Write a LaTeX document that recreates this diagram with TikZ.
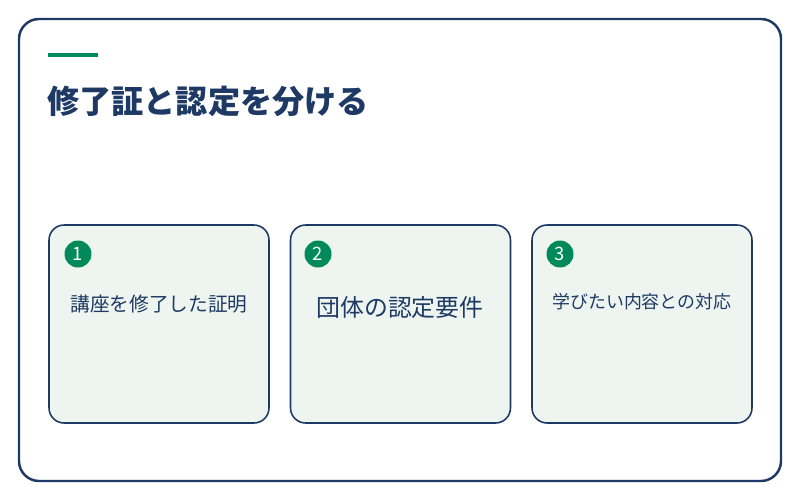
\documentclass[tikz,border=0pt]{standalone}
\usepackage{fontspec}
\usepackage{xcolor}
\setmainfont{Noto Sans CJK JP}
\newfontfamily\jpbold[BoldFont={Noto Sans CJK JP Bold}]{Noto Sans CJK JP}
\definecolor{navyline}{RGB}{30,58,100}
\definecolor{accentgreen}{RGB}{0,138,92}
\definecolor{cardfill}{RGB}{238,245,240}

\begin{document}
\begin{tikzpicture}[x=0.02cm, y=-0.02cm,
    card/.style={draw=navyline, line width=0.9pt, rounded corners=0.3cm, fill=cardfill, minimum width=4.4cm, minimum height=3.96cm},
    badge/.style={circle, fill=accentgreen, text=white, minimum size=0.54cm, inner sep=0pt, font=\fontsize{10.5}{11}\selectfont},
    cardtext/.style={anchor=west, text=navyline, inner sep=0pt}]
            \useasboundingbox (0,0) rectangle (800,500);
            \draw[navyline, line width=1.4pt, rounded corners=0.4cm, fill=white] (19,19) rectangle (781,481);
            \fill[accentgreen] (48,53) rectangle (98,57);
            \node[anchor=west, inner sep=0pt, text=navyline, font=\fontsize{18.3}{20}\selectfont\bfseries] (title) at (47,101) {修了証と認定を分ける};
            \node[card] (card1) at (159,324) {};
            \node[card] (card2) at (400.5,324) {};
            \node[card] (card3) at (642,324) {};
            \node[badge] (num1) at (78,254) {1};
            \node[badge] (num2) at (318,254) {2};
            \node[badge] (num3) at (560,254) {3};
            \node[cardtext, font=\fontsize{11.2}{13}\selectfont] (cert) at (70,304) {講座を修了した証明};
            \node[cardtext, font=\fontsize{13.6}{15}\selectfont] (group) at (316,307) {団体の認定要件};
            \node[cardtext, font=\fontsize{10.2}{12}\selectfont] (match) at (552,302) {学びたい内容との対応};
        \end{tikzpicture}
\end{document}
